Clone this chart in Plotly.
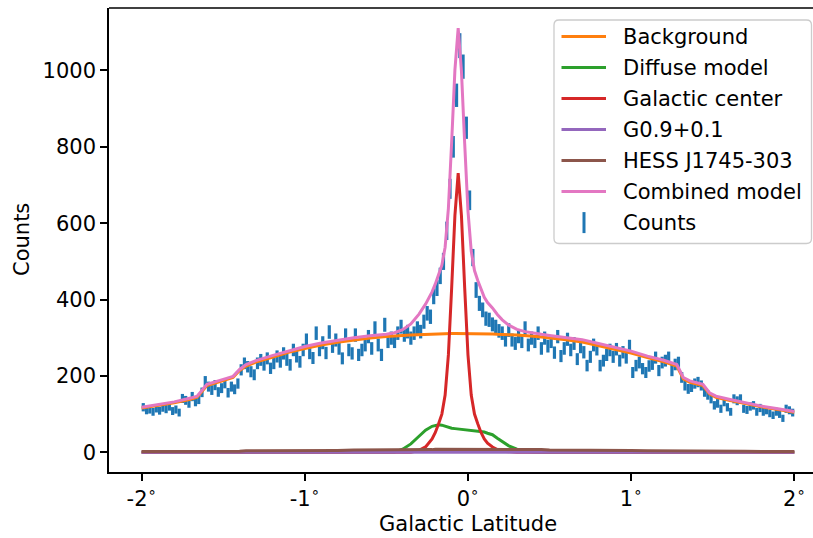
import numpy as np
import plotly.graph_objects as go

# ---------------- data ----------------
bin_centers = np.round(np.arange(-1.99, 2.0, 0.02), 2)
counts = [
    118, 110, 112, 106, 115, 109, 117, 113, 120, 108,
    112, 104, 141, 136, 128, 146, 132, 138, 157, 186,
    172, 163, 176, 158, 168, 181, 156, 172, 165, 180,
    216, 233, 224, 211, 203, 233, 242, 229, 246, 220,
    233, 251, 237, 259, 242, 229, 268, 251, 237, 268,
    294, 260, 247, 312, 268, 287, 260, 315, 277, 294,
    272, 246, 307, 268, 259, 307, 255, 268, 281, 303,
    272, 325, 281, 255, 334, 290, 299, 290, 312, 329,
    307, 316, 299, 312, 325, 316, 342, 364, 355, 408,
    430, 462, 500, 580, 690, 800, 935, 1065, 1010, 850,
    660, 510, 425, 390, 373, 350, 347, 335, 329, 318,
    312, 294, 320, 294, 285, 303, 290, 325, 281, 299,
    290, 312, 272, 299, 278, 290, 261, 303, 252, 272,
    296, 268, 285, 244, 276, 262, 227, 250, 281, 270,
    227, 240, 255, 268, 250, 270, 240, 262, 248, 278,
    209, 227, 235, 219, 209, 226, 231, 248, 214, 235,
    240, 248, 214, 230, 235, 196, 175, 166, 171, 180,
    184, 175, 158, 150, 140, 123, 128, 114, 132, 118,
    106, 140, 135, 140, 114, 111, 120, 123, 106, 116,
    106, 110, 102, 97, 106, 100, 89, 114, 110, 104,
]
count_errors = np.sqrt(counts)

model_x = [-2.0, -1.9, -1.8, -1.7, -1.66, -1.6, -1.56, -1.5, -1.44, -1.4,
           -1.36, -1.3, -1.2, -1.1, -1.0, -0.9, -0.8, -0.7, -0.6, -0.5,
           -0.45, -0.4, -0.35, -0.3, -0.26, -0.22, -0.2, -0.18, -0.16, -0.14,
           -0.12, -0.1, -0.08, -0.06, -0.04, -0.02, 0.0, 0.02, 0.04, 0.06,
           0.08, 0.1, 0.12, 0.15, 0.18, 0.21, 0.25, 0.3, 0.35, 0.4,
           0.45, 0.5, 0.6, 0.7, 0.8, 0.9, 1.0, 1.1, 1.2, 1.28,
           1.32, 1.36, 1.44, 1.48, 1.52, 1.6, 1.7, 1.8, 1.9, 2.0]
background = [116, 123, 130, 139, 144, 175, 181, 188, 196, 214,
              226, 236, 249, 262, 272, 281, 288, 294, 299, 303,
              305, 306, 307, 308, 309, 310, 310, 311, 311, 311,
              311, 311, 311, 311, 311, 311, 311, 311, 311, 311,
              311, 310, 310, 310, 309, 309, 308, 307, 306, 304,
              302, 300, 295, 289, 280, 270, 260, 248, 237, 226,
              192, 183, 175, 153, 144, 136, 127, 119, 112, 105]
diffuse = [0, 0, 0, 0, 0, 0, 0, 0, 0, 0,
           0, 0, 0, 0, 0, 0, 0, 0, 0, 0,
           1, 8, 22, 42, 58, 68, 71, 72, 71, 68,
           65, 63, 62, 61, 60, 59, 58, 58, 57, 56,
           55, 53, 50, 46, 37, 28, 17, 8, 3, 1,
           0, 0, 0, 0, 0, 0, 0, 0, 0, 0,
           0, 0, 0, 0, 0, 0, 0, 0, 0, 0]
galactic_center = [0, 0, 0, 0, 0, 0, 0, 0, 0, 0,
                   0, 0, 0, 0, 0, 0, 0, 0, 0, 0,
                   0, 0, 0, 5, 14, 35, 52, 75, 100, 150,
                   255, 430, 620, 731, 620, 430, 255, 150, 100, 75,
                   52, 35, 24, 14, 7, 3, 1, 0, 0, 0,
                   0, 0, 0, 0, 0, 0, 0, 0, 0, 0,
                   0, 0, 0, 0, 0, 0, 0, 0, 0, 0]
g09 = [0, 0, 0, 0, 0, 0, 0, 0, 0, 0,
       0, 0, 0, 0, 0, 0, 0, 0, 0, 0,
       0, 0, 0, 0, 0, 0, 0, 0, 0, 0,
       0, 0, 0, 0, 0, 0, 0, 0, 0, 0,
       0, 0, 0, 0, 0, 0, 0, 0, 0, 0,
       0, 0, 0, 0, 0, 0, 0, 0, 0, 0,
       0, 0, 0, 0, 0, 0, 0, 0, 0, 0]
hess = [2, 2, 2, 3, 3, 3, 3, 3, 3, 3,
        4, 4, 4, 4, 5, 5, 5, 6, 6, 6,
        7, 7, 7, 7, 7, 7, 8, 8, 8, 8,
        8, 8, 8, 8, 8, 8, 8, 8, 8, 8,
        8, 8, 8, 8, 8, 7, 7, 7, 7, 7,
        7, 6, 6, 6, 5, 5, 5, 4, 4, 4,
        4, 4, 3, 3, 3, 3, 3, 2, 2, 2]
combined = [118, 125, 132, 142, 147, 178, 184, 191, 199, 217,
            230, 240, 253, 266, 277, 286, 293, 300, 305, 309,
            313, 321, 336, 362, 388, 420, 441, 466, 490, 537,
            639, 812, 1001, 1111, 999, 808, 632, 527, 476, 450,
            426, 406, 392, 378, 361, 347, 333, 322, 316, 312,
            309, 306, 301, 295, 285, 275, 265, 252, 241, 230,
            196, 187, 178, 156, 147, 139, 130, 121, 114, 107]

tick_vals = [-2, -1, 0, 1, 2]
tick_text = ["-2<sup>∘</sup>", "-1<sup>∘</sup>", "0<sup>∘</sup>", "1<sup>∘</sup>", "2<sup>∘</sup>"]
y_ticks = [0, 200, 400, 600, 800, 1000]

series_names = ["Background", "Diffuse model", "Galactic center", "G0.9+0.1",
                "HESS J1745-303", "Combined model"]
series_values = [background, diffuse, galactic_center, g09, hess, combined]
series_colors = ["#ff7f0e", "#2ca02c", "#d62728", "#9467bd", "#8c564b", "#e377c2"]
counts_color = "#1f77b4"

# ---------------- layout geometry ----------------
W, H = 813, 538
ML, MR, MT, MB = 109, 0, 8, 66
PW, PH = W - ML - MR, H - MT - MB
FONT = "DejaVu Sans"
FS = 21


def px(xp):
    return (xp - ML) / PW


def py(yp):
    return (H - MB - yp) / PH


fig = go.Figure()

fig.add_trace(go.Scatter(
    x=bin_centers, y=counts, mode="markers", name="Counts",
    marker=dict(size=1, color="rgba(0,0,0,0)"),
    error_y=dict(type="data", array=count_errors, visible=True,
                 color=counts_color, thickness=3.2, width=0),
    showlegend=False, hoverinfo="skip"))

for name, vals, col in zip(series_names, series_values, series_colors):
    fig.add_trace(go.Scatter(x=model_x, y=vals, mode="lines", name=name,
                             line=dict(color=col, width=3), showlegend=False))

shapes = []
annotations = []

# top spine
shapes.append(dict(type="line", xref="paper", yref="paper", x0=0, x1=1, y0=1, y1=1,
                   line=dict(color="black", width=1.6), layer="above"))

# legend frame (rounded)
lx0, lx1, ly0, ly1, r = 554, 811.5, 20, 243.5, 5
pts = [("M", lx0 + r, ly0), ("L", lx1 - r, ly0), ("Q", lx1, ly0, lx1, ly0 + r),
       ("L", lx1, ly1 - r), ("Q", lx1, ly1, lx1 - r, ly1), ("L", lx0 + r, ly1),
       ("Q", lx0, ly1, lx0, ly1 - r), ("L", lx0, ly0 + r), ("Q", lx0, ly0, lx0 + r, ly0)]
path = ""
for p in pts:
    cmd = p[0]
    coords = p[1:]
    s = []
    for i in range(0, len(coords), 2):
        s.append(f"{px(coords[i]):.5f},{py(coords[i + 1]):.5f}")
    path += cmd + " ".join(s) + " "
path += "Z"
shapes.append(dict(type="path", xref="paper", yref="paper", path=path,
                   fillcolor="rgba(255,255,255,0.8)",
                   line=dict(color="#cccccc", width=1.3), layer="above"))

row0, step = 36.6, 31.0
all_names = series_names + ["Counts"]
for i, name in enumerate(all_names):
    yc = row0 + i * step
    if i < len(series_names):
        shapes.append(dict(type="line", xref="paper", yref="paper",
                           x0=px(561.5), x1=px(606), y0=py(yc), y1=py(yc),
                           line=dict(color=series_colors[i], width=3), layer="above"))
    else:
        shapes.append(dict(type="line", xref="paper", yref="paper",
                           x0=px(584), x1=px(584), y0=py(yc - 10.5), y1=py(yc + 10.5),
                           line=dict(color=counts_color, width=3), layer="above"))
    annotations.append(dict(text=name, xref="paper", yref="paper", x=px(621), y=py(yc),
                            xanchor="left", yanchor="middle", showarrow=False,
                            font=dict(family=FONT, size=FS, color="black")))

# axis titles
annotations.append(dict(text="Galactic Latitude", xref="paper", yref="paper",
                        x=px(468), y=py(524), xanchor="center", yanchor="middle",
                        showarrow=False, font=dict(family=FONT, size=FS, color="black")))
annotations.append(dict(text="Counts", xref="paper", yref="paper",
                        x=px(22), y=py(240), xanchor="center", yanchor="middle",
                        textangle=-90, showarrow=False,
                        font=dict(family=FONT, size=FS, color="black")))

fig.update_layout(
    width=W, height=H,
    margin=dict(l=ML, r=MR, t=MT, b=MB, pad=0),
    paper_bgcolor="white", plot_bgcolor="white",
    font=dict(family=FONT, size=FS, color="black"),
    showlegend=False,
    shapes=shapes, annotations=annotations,
    xaxis=dict(range=[-2.2, 2.1146], tickvals=tick_vals, ticktext=tick_text,
               showgrid=False, zeroline=False, showline=True, linecolor="black",
               linewidth=1.6, ticks="outside", ticklen=7, tickwidth=1.6,
               tickcolor="black", tickfont=dict(family=FONT, size=FS, color="black")),
    yaxis=dict(range=[-51.6, 1163.6], tickvals=y_ticks,
               showgrid=False, zeroline=False, showline=True, linecolor="black",
               linewidth=1.6, ticks="outside", ticklen=7, tickwidth=1.6,
               tickcolor="black", tickfont=dict(family=FONT, size=FS, color="black")),
)

fig.write_html(
    "out.html",
    config={"displayModeBar": False},
    post_script="document.body.style.margin='0';document.body.style.overflow='hidden';",
)
